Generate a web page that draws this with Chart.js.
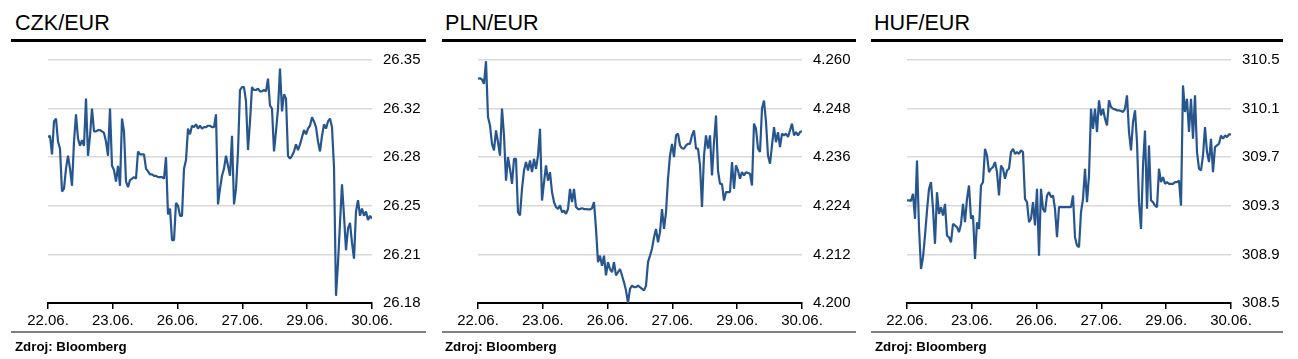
<!DOCTYPE html>
<html><head><meta charset="utf-8">
<script src="https://cdn.jsdelivr.net/npm/chart.js@4.4.0/dist/chart.umd.min.js"></script>
<style>
body{margin:0;background:#fff;width:1298px;height:359px;position:relative;overflow:hidden;font-family:"Liberation Sans",Arial,sans-serif;}
.title{position:absolute;top:12px;font-size:21.6px;line-height:21px;color:#000;white-space:nowrap;}
.bar{position:absolute;top:39px;height:3px;background:#000;}
.sep{position:absolute;top:331px;height:2px;background:#808080;}
.src{position:absolute;top:340px;font-size:13.3px;line-height:13px;font-weight:bold;color:#000;white-space:nowrap;}
canvas{position:absolute;top:40px;}
</style></head><body>
<div class="title" style="left:15px">CZK/EUR</div>
<div class="title" style="left:445px">PLN/EUR</div>
<div class="title" style="left:874px">HUF/EUR</div>
<div class="bar" style="left:11px;width:415px"></div>
<div class="bar" style="left:442px;width:414px"></div>
<div class="bar" style="left:871px;width:412px"></div>
<canvas id="c1" width="430" height="300" style="left:0px"></canvas>
<canvas id="c2" width="430" height="300" style="left:430px"></canvas>
<canvas id="c3" width="430" height="300" style="left:860px"></canvas>
<div class="sep" style="left:11px;width:415px"></div>
<div class="sep" style="left:442px;width:414px"></div>
<div class="sep" style="left:871px;width:412px"></div>
<div class="src" style="left:15px">Zdroj: Bloomberg</div>
<div class="src" style="left:445px">Zdroj: Bloomberg</div>
<div class="src" style="left:875px">Zdroj: Bloomberg</div>
<script>
// Category (trading day) labels on the x axis
const dayLabels = ["22.06.", "23.06.", "26.06.", "27.06.", "29.06.", "30.06."];
const dayTickValues = [0, 1, 2, 3, 4, 5];

// Y axis tick values and their printed labels
const czkTickValues = [26.18, 26.214, 26.248, 26.282, 26.316, 26.35];
const czkTickLabels = ["26.18", "26.21", "26.25", "26.28", "26.32", "26.35"];
const plnTickValues = [4.200, 4.212, 4.224, 4.236, 4.248, 4.260];
const plnTickLabels = ["4.200", "4.212", "4.224", "4.236", "4.248", "4.260"];
const hufTickValues = [308.5, 308.9, 309.3, 309.7, 310.1, 310.5];
const hufTickLabels = ["308.5", "308.9", "309.3", "309.7", "310.1", "310.5"];

// Series values (evenly spaced samples from 22.06. to 30.06.)
const czkValues = [26.296,26.297,26.284,26.307,26.309,26.293,26.288,26.258,26.260,26.274,
26.283,26.274,26.262,26.293,26.312,26.295,26.290,26.294,26.290,26.323,
26.283,26.297,26.316,26.300,26.300,26.301,26.301,26.300,26.299,26.293,
26.283,26.316,26.276,26.273,26.265,26.276,26.262,26.309,26.300,26.265,
26.261,26.266,26.267,26.268,26.267,26.286,26.284,26.284,26.284,26.274,
26.272,26.270,26.270,26.269,26.269,26.268,26.268,26.268,26.267,26.282,
26.242,26.246,26.224,26.224,26.250,26.248,26.241,26.241,26.274,26.280,
26.302,26.298,26.304,26.303,26.305,26.302,26.304,26.302,26.303,26.303,
26.304,26.304,26.303,26.303,26.312,26.249,26.260,26.269,26.274,26.283,
26.276,26.269,26.297,26.249,26.260,26.286,26.329,26.331,26.331,26.321,
26.287,26.307,26.331,26.329,26.329,26.330,26.328,26.328,26.329,26.328,
26.337,26.318,26.316,26.286,26.300,26.316,26.344,26.314,26.326,26.323,
26.283,26.281,26.283,26.286,26.291,26.287,26.291,26.296,26.301,26.298,
26.302,26.304,26.310,26.307,26.303,26.293,26.286,26.297,26.305,26.302,
26.307,26.309,26.303,26.275,26.185,26.208,26.236,26.263,26.241,26.217,
26.232,26.236,26.222,26.211,26.244,26.252,26.241,26.246,26.241,26.244,
26.238,26.241,26.239];

const plnValues = [4.2554,4.2555,4.2552,4.2541,4.2597,4.2459,4.2438,4.2393,4.2377,4.2426,
4.2397,4.2364,4.2480,4.2414,4.2302,4.2360,4.2331,4.2294,4.2356,4.2356,
4.2224,4.2216,4.2282,4.2327,4.2348,4.2327,4.2352,4.2323,4.2356,4.2331,
4.2364,4.2430,4.2253,4.2298,4.2340,4.2302,4.2323,4.2274,4.2249,4.2237,
4.2232,4.2241,4.2224,4.2228,4.2220,4.2232,4.2282,4.2249,4.2282,4.2237,
4.2232,4.2232,4.2234,4.2232,4.2232,4.2231,4.2231,4.2234,4.2249,4.2183,
4.2101,4.2117,4.2092,4.2117,4.2068,4.2101,4.2084,4.2076,4.2101,4.2068,
4.2076,4.2084,4.2068,4.2051,4.2031,4.2000,4.2035,4.2043,4.2039,4.2039,
4.2043,4.2039,4.2035,4.2031,4.2043,4.2101,4.2117,4.2134,4.2162,4.2183,
4.2150,4.2175,4.2232,4.2183,4.2224,4.2307,4.2364,4.2393,4.2360,4.2414,
4.2418,4.2389,4.2382,4.2381,4.2389,4.2393,4.2393,4.2414,4.2426,4.2381,
4.2381,4.2340,4.2237,4.2364,4.2414,4.2381,4.2414,4.2315,4.2397,4.2463,
4.2327,4.2294,4.2294,4.2253,4.2274,4.2274,4.2274,4.2348,4.2282,4.2340,
4.2327,4.2307,4.2323,4.2315,4.2323,4.2321,4.2319,4.2290,4.2443,4.2430,
4.2381,4.2373,4.2480,4.2500,4.2447,4.2364,4.2344,4.2389,4.2434,4.2397,
4.2422,4.2385,4.2418,4.2414,4.2418,4.2410,4.2426,4.2443,4.2414,4.2422,
4.2414,4.2422,4.2424];

const hufValues = [309.344,309.344,309.341,309.399,309.193,309.673,309.124,308.780,308.877,309.055,
309.261,309.440,309.495,309.275,308.987,309.412,309.234,309.289,309.220,309.316,
309.055,309.041,309.000,309.151,309.138,309.124,309.083,309.151,309.316,309.165,
309.357,309.467,309.193,309.220,308.863,309.165,309.110,309.467,309.495,309.769,
309.714,309.577,309.605,309.618,309.660,309.577,309.385,309.632,309.605,309.522,
309.591,309.605,309.742,309.769,309.728,309.742,309.728,309.756,309.742,309.357,
309.330,309.165,309.193,309.330,309.138,309.440,308.890,309.440,309.275,309.247,
309.385,309.412,309.371,309.385,309.275,309.041,309.289,309.289,309.289,309.289,
309.289,309.289,309.289,309.385,309.041,308.973,308.959,309.247,309.357,309.605,
309.330,309.550,310.099,309.934,310.099,309.907,310.168,310.044,310.099,310.017,
309.962,310.168,310.113,310.099,310.094,310.085,310.085,310.080,310.072,310.099,
310.209,309.907,309.756,309.989,310.085,309.824,309.330,309.110,309.632,309.920,
309.275,309.797,309.344,309.330,309.302,309.289,309.605,309.495,309.536,309.481,
309.495,309.481,309.481,309.481,309.495,309.495,309.508,309.302,310.291,310.072,
310.181,309.907,310.181,309.852,310.209,309.742,309.605,309.591,309.714,309.948,
309.742,309.660,309.852,309.577,309.783,309.797,309.811,309.879,309.852,309.879,
309.866,309.888,309.888];

const FONT = '"Liberation Sans", Arial, sans-serif';
const LINE = '#27568f';

function makePanel(id, values, tickVals, tickLabels, padLeft) {
  const n = values.length;
  const span = dayTickValues[dayTickValues.length - 1];
  const pts = values.map((v, i) => ({ x: i * span / (n - 1), y: v }));
  const plotW = 324;
  new Chart(document.getElementById(id), {
    type: 'line',
    data: { datasets: [{ data: pts, borderColor: LINE, borderWidth: 2.2, pointRadius: 0,
      tension: 0, fill: false, borderJoinStyle: 'bevel' }] },
    options: {
      responsive: false, animation: false, devicePixelRatio: 1,
      layout: { padding: { left: padLeft, top: 20, right: 0, bottom: 0 } },
      plugins: { legend: { display: false }, tooltip: { enabled: false }, title: { display: false } },
      scales: {
        x: {
          type: 'linear', min: dayTickValues[0], max: span,
          afterBuildTicks: s => { s.ticks = dayTickValues.map(v => ({ value: v })); },
          afterFit: s => { s.height = 37; },
          ticks: { autoSkip: false, maxRotation: 0, padding: 3, color: '#000',
            font: { family: FONT, size: 15 }, callback: (v, i) => dayLabels[i] },
          grid: { drawOnChartArea: false, drawTicks: true, tickLength: 6, color: '#000', lineWidth: 1.5 },
          border: { display: true, color: '#000', width: 2 }
        },
        y: {
          type: 'linear', position: 'right',
          min: tickVals[0], max: tickVals[tickVals.length - 1],
          afterBuildTicks: s => { s.ticks = tickVals.map(v => ({ value: v })); },
          afterFit: s => { s.width = 430 - padLeft - plotW; },
          ticks: { padding: 11, color: '#000', font: { family: FONT, size: 15 },
            callback: (v, i) => tickLabels[i] },
          grid: { drawTicks: false, color: '#d9d9d9', lineWidth: 1.5 },
          border: { display: false }
        }
      }
    }
  });
}

makePanel('c1', czkValues, czkTickValues, czkTickLabels, 48);
makePanel('c2', plnValues, plnTickValues, plnTickLabels, 48);
makePanel('c3', hufValues, hufTickValues, hufTickLabels, 47);
</script>
</body></html>
